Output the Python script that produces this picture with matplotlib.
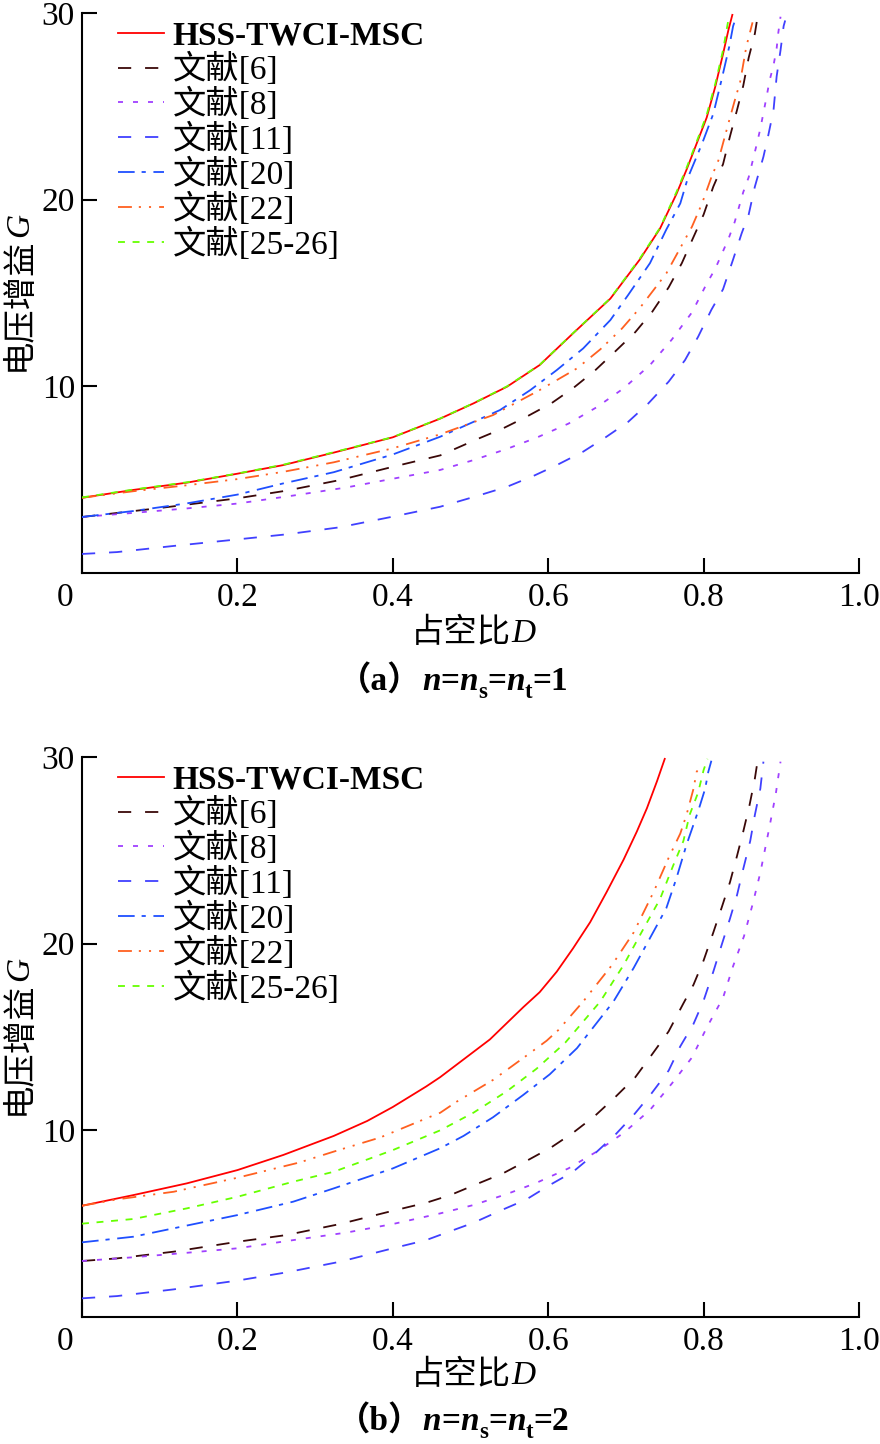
import matplotlib
matplotlib.use('Agg')
import matplotlib.pyplot as plt

SERIF = ['Liberation Serif', 'Noto Sans CJK SC']
plt.rcParams['font.family'] = SERIF
plt.rcParams['lines.scale_dashes'] = False
plt.rcParams['axes.unicode_minus'] = False

# ---------------- data ----------------
labels = ['HSS-TWCI-MSC', '文献[6]', '文献[8]', '文献[11]', '文献[20]', '文献[22]', '文献[25-26]']

# (a) n = ns = nt = 1
d_hss_a = [0, 0.066, 0.135, 0.2, 0.259, 0.324, 0.4, 0.461, 0.504, 0.547, 0.589, 0.632, 0.68, 0.718, 0.744, 0.765, 0.778, 0.791, 0.804, 0.815, 0.825, 0.832, 0.837]
g_hss_a = [4.03, 4.45, 4.84, 5.32, 5.78, 6.45, 7.27, 8.27, 9.09, 9.98, 11.14, 12.84, 14.7, 16.8, 18.46, 20.3, 21.6, 23.0, 24.4, 26.05, 27.8, 29.1, 29.9]

d_r6_a = [0, 0.1, 0.2, 0.263, 0.332, 0.4, 0.461, 0.508, 0.542, 0.572, 0.604, 0.632, 0.66, 0.686, 0.712, 0.734, 0.755, 0.772, 0.787, 0.80, 0.8125, 0.825, 0.834, 0.843, 0.851, 0.858, 0.866, 0.871]
g_r6_a = [3.0, 3.48, 4.0, 4.41, 4.98, 5.69, 6.3, 7.16, 7.75, 8.37, 9.09, 9.9, 10.84, 11.86, 12.9, 14.0, 15.3, 16.6, 18.0, 19.2, 20.7, 21.9, 23.4, 24.8, 26.1, 27.6, 28.9, 30.2]

d_r8_a = [0, 0.066, 0.135, 0.2, 0.272, 0.34, 0.4, 0.461, 0.504, 0.547, 0.585, 0.626, 0.662, 0.697, 0.731, 0.759, 0.785, 0.804, 0.815, 0.832, 0.840, 0.851, 0.858, 0.868, 0.873, 0.881, 0.885, 0.890, 0.894, 0.896, 0.899]
g_r8_a = [3.0, 3.22, 3.46, 3.72, 4.15, 4.58, 5.05, 5.52, 6.05, 6.65, 7.25, 8.0, 8.87, 9.89, 11.14, 12.5, 13.96, 15.5, 16.3, 17.9, 18.8, 20.4, 21.2, 22.9, 23.8, 25.5, 26.4, 27.2, 28.1, 28.9, 29.8]

d_r11_a = [0, 0.045, 0.118, 0.2, 0.263, 0.332, 0.4, 0.461, 0.508, 0.547, 0.581, 0.611, 0.645, 0.675, 0.703, 0.729, 0.755, 0.776, 0.793, 0.81, 0.825, 0.838, 0.849, 0.858, 0.866, 0.877, 0.883, 0.890, 0.894, 0.899, 0.903, 0.905]
g_r11_a = [1.02, 1.12, 1.45, 1.8, 2.07, 2.45, 3.02, 3.55, 4.12, 4.62, 5.2, 5.78, 6.5, 7.3, 8.1, 9.09, 10.25, 11.4, 12.66, 14.1, 15.2, 16.8, 18.2, 19.2, 20.7, 22.3, 23.4, 24.8, 26.6, 28.0, 29.3, 29.6]

d_r20_a = [0, 0.066, 0.135, 0.2, 0.259, 0.324, 0.4, 0.461, 0.538, 0.577, 0.611, 0.645, 0.68, 0.703, 0.731, 0.752, 0.770, 0.780, 0.798, 0.8125, 0.823, 0.833, 0.838, 0.842]
g_r20_a = [3.0, 3.32, 3.73, 4.2, 4.8, 5.4, 6.35, 7.30, 8.73, 9.8, 10.87, 12.03, 13.55, 14.9, 16.6, 18.4, 19.8, 21.2, 23.0, 24.6, 26.4, 28.2, 29.3, 29.8]

d_r22_a = [0, 0.066, 0.135, 0.2, 0.259, 0.324, 0.4, 0.461, 0.529, 0.589, 0.637, 0.667, 0.695, 0.718, 0.752, 0.785, 0.798, 0.810, 0.819, 0.832, 0.840, 0.847, 0.855, 0.863]
g_r22_a = [4.03, 4.38, 4.7, 5.03, 5.42, 5.93, 6.68, 7.43, 8.46, 9.8, 10.96, 11.98, 13.1, 14.2, 16.05, 18.55, 19.8, 21.2, 22.1, 24.1, 25.3, 26.3, 28.2, 29.5]

d_r25_a = [0, 0.066, 0.135, 0.2, 0.259, 0.324, 0.4, 0.461, 0.504, 0.547, 0.589, 0.632, 0.68, 0.718, 0.744, 0.765, 0.778, 0.791, 0.804, 0.815, 0.825, 0.833]
g_r25_a = [4.05, 4.47, 4.86, 5.33, 5.8, 6.47, 7.28, 8.28, 9.1, 10.0, 11.15, 12.85, 14.72, 16.85, 18.5, 20.4, 21.7, 23.1, 24.55, 26.2, 28.0, 29.9]

# (b) n = ns = nt = 2
d_hss_b = [0, 0.066, 0.135, 0.2, 0.259, 0.324, 0.367, 0.4, 0.443, 0.461, 0.525, 0.568, 0.589, 0.611, 0.632, 0.654, 0.675, 0.697, 0.714, 0.727, 0.740, 0.75]
g_hss_b = [5.96, 6.53, 7.16, 7.87, 8.68, 9.7, 10.5, 11.25, 12.35, 12.85, 14.87, 16.6, 17.4, 18.5, 19.75, 21.15, 22.75, 24.5, 26.0, 27.25, 28.7, 29.9]

d_r6_b = [0, 0.045, 0.118, 0.2, 0.263, 0.332, 0.4, 0.443, 0.474, 0.508, 0.542, 0.572, 0.604, 0.632, 0.66, 0.686, 0.712, 0.733, 0.755, 0.774, 0.787, 0.80, 0.8125, 0.823, 0.834, 0.843, 0.851, 0.859, 0.866, 0.871]
g_r6_b = [3.0, 3.14, 3.5, 4.03, 4.39, 4.98, 5.69, 6.12, 6.53, 7.12, 7.7, 8.36, 9.09, 9.87, 10.77, 11.77, 12.84, 14.03, 15.3, 16.8, 17.8, 19.1, 20.6, 21.9, 23.3, 24.7, 26.0, 27.4, 28.85, 30.2]

d_r8_b = [0, 0.066, 0.135, 0.2, 0.272, 0.34, 0.4, 0.461, 0.504, 0.547, 0.585, 0.626, 0.662, 0.698, 0.731, 0.759, 0.785, 0.804, 0.825, 0.838, 0.852, 0.863, 0.873, 0.885, 0.893, 0.899]
g_r8_b = [3.0, 3.2, 3.44, 3.68, 4.12, 4.52, 4.98, 5.55, 6.0, 6.59, 7.19, 7.96, 8.85, 9.89, 11.09, 12.5, 13.9, 15.5, 17.1, 18.8, 20.4, 22.1, 23.8, 26.3, 28.05, 29.75]

d_r11_b = [0, 0.045, 0.118, 0.2, 0.263, 0.332, 0.4, 0.443, 0.469, 0.504, 0.538, 0.572, 0.602, 0.632, 0.658, 0.686, 0.71, 0.733, 0.755, 0.77, 0.787, 0.80, 0.8125, 0.823, 0.834, 0.843, 0.851, 0.86, 0.866, 0.873, 0.877]
g_r11_b = [1.0, 1.12, 1.48, 1.95, 2.39, 2.96, 3.68, 4.12, 4.52, 5.05, 5.69, 6.3, 7.07, 7.78, 8.68, 9.75, 10.82, 11.98, 13.2, 14.5, 15.7, 16.95, 18.5, 19.9, 21.35, 22.6, 24.0, 25.5, 26.9, 28.3, 29.75]

d_r20_b = [0, 0.066, 0.135, 0.2, 0.272, 0.324, 0.4, 0.461, 0.491, 0.529, 0.568, 0.602, 0.637, 0.684, 0.710, 0.731, 0.752, 0.765, 0.778, 0.793, 0.802, 0.806, 0.810]
g_r20_b = [4.0, 4.3, 4.9, 5.46, 6.18, 6.89, 7.96, 9.04, 9.7, 10.7, 11.9, 13.0, 14.4, 16.9, 18.7, 20.3, 21.9, 23.5, 25.3, 27.1, 28.3, 29.2, 29.8]

d_r22_b = [0, 0.045, 0.118, 0.2, 0.28, 0.324, 0.384, 0.443, 0.461, 0.482, 0.529, 0.572, 0.598, 0.613, 0.645, 0.682, 0.710, 0.736, 0.755, 0.770, 0.778, 0.787, 0.791, 0.797]
g_r22_b = [5.96, 6.3, 6.71, 7.46, 8.28, 8.86, 9.62, 10.64, 10.94, 11.53, 12.7, 14.0, 14.8, 15.37, 16.9, 18.85, 20.6, 22.8, 24.6, 25.9, 26.9, 28.3, 29.2, 29.6]

d_r25_b = [0, 0.066, 0.135, 0.2, 0.272, 0.324, 0.4, 0.461, 0.504, 0.547, 0.585, 0.622, 0.667, 0.697, 0.720, 0.744, 0.761, 0.774, 0.782, 0.793, 0.800, 0.805]
g_r25_b = [5.0, 5.25, 5.82, 6.44, 7.25, 7.78, 8.94, 10.0, 10.95, 12.1, 13.3, 14.7, 16.9, 18.85, 20.6, 22.4, 24.2, 25.5, 26.9, 28.1, 29.3, 29.9]

x_ticks = [0, 0.2, 0.4, 0.6, 0.8, 1.0]
x_ticklabels = ['0', '0.2', '0.4', '0.6', '0.8', '1.0']
y_ticks = [10, 20, 30]
y_ticklabels = ['10', '20', '30']

# ---------------- styles ----------------
colors = ['#ff0000', '#3a0808', '#a040ff', '#4040ff', '#1f4fff', '#ff6020', '#66ff00']
dash_styles = [None, (9.5, 10), (3.6, 7.2), (9.5, 10), (12, 5, 3, 5.5),
               (10, 5, 1.5, 5.8, 1.5, 5.8), (5, 5.5)]
FS = 24

series_a = [(d_hss_a, g_hss_a), (d_r6_a, g_r6_a), (d_r8_a, g_r8_a), (d_r11_a, g_r11_a),
            (d_r20_a, g_r20_a), (d_r22_a, g_r22_a), (d_r25_a, g_r25_a)]
series_b = [(d_hss_b, g_hss_b), (d_r6_b, g_r6_b), (d_r8_b, g_r8_b), (d_r11_b, g_r11_b),
            (d_r20_b, g_r20_b), (d_r22_b, g_r22_b), (d_r25_b, g_r25_b)]

W, H = 880, 1444
fig = plt.figure(figsize=(W / 100, H / 100), dpi=100)


def px_rect(left, top, right, bottom):
    return [left / W, 1 - bottom / H, (right - left) / W, (bottom - top) / H]


def draw(ax, series):
    for i, (d, g) in enumerate(series):
        ln, = ax.plot(d, g, color=colors[i], lw=1.3, label=labels[i], zorder=3)
        if dash_styles[i] is not None:
            ln.set_dashes(dash_styles[i])
    ax.set_xlim(0, 1.0)
    ax.set_ylim(0, 30)
    ax.set_xticks(x_ticks)
    # origin label sits left of the y axis, as in the reference
    ax.set_xticklabels([x_ticklabels[0] + ' '] + x_ticklabels[1:])
    ax.xaxis.get_ticklabels()[0].set_horizontalalignment('right')
    ax.set_yticks(y_ticks)
    ax.set_yticklabels(y_ticklabels)
    ax.tick_params(direction='in', length=11, width=1.5, labelsize=FS)
    ax.tick_params(axis='x', pad=6.5)
    ax.tick_params(axis='y', pad=5)
    for s in ['top', 'right']:
        ax.spines[s].set_visible(False)
    for s in ['left', 'bottom']:
        ax.spines[s].set_linewidth(1.5)
    leg = ax.legend(loc='upper left', bbox_to_anchor=(0.046, 0.987), frameon=False,
                    fontsize=FS, handlelength=1.38, handletextpad=0.27,
                    labelspacing=0.05, borderaxespad=0, borderpad=0.0)
    leg.get_texts()[0].set_fontweight('bold')


ax1 = fig.add_axes(px_rect(82, 13, 859, 573))
draw(ax1, series_a)
ax2 = fig.add_axes(px_rect(82, 757, 859, 1317))
draw(ax2, series_b)

renderer = fig.canvas.get_renderer()


def rich_text(xc, yc, pieces, vertical=False):
    """Place text pieces side by side. Horizontal: xc = centre x, yc = baseline y (pixels).
    Vertical: xc = baseline x, yc = centre y."""
    arts, widths = [], []
    for s, kw in pieces:
        kw = dict(kw)
        dy = kw.pop('dy', 0)
        t = fig.text(0, 0, s, ha='left', va='baseline', rotation_mode='anchor', **kw)
        widths.append(t.get_window_extent(renderer).width)
        arts.append((t, dy))
    total = sum(widths)
    cum = 0
    for (t, dy), w in zip(arts, widths):
        if vertical:
            t.set_rotation(90)
            t.set_position((xc / W, 1 - (yc + total / 2 - cum) / H))
        else:
            t.set_position(((xc - total / 2 + cum) / W, 1 - (yc + dy) / H))
        cum += w


cjk = dict(fontsize=FS, family=SERIF)
ital = dict(fontsize=FS, family=SERIF, style='italic')
bcjk = dict(fontsize=FS, family=SERIF, weight='bold')
bit = dict(fontsize=FS, family=SERIF, weight='bold', style='italic')
bsub = dict(fontsize=FS * 0.68, family=SERIF, weight='bold', dy=8)

for yc in (292, 1036):
    rich_text(28, yc, [('电压增益', cjk), ('G', ital)], vertical=True)
for yb in (642, 1384):
    rich_text(473, yb, [('占空比', cjk), ('D', ital)])
for yb, tag, val in ((690, '（a）', '1'), (1430, '（b）', '2')):
    rich_text(453, yb, [(tag, bcjk), ('n', bit), ('=', bcjk), ('n', bit), ('s', bsub),
                        ('=', bcjk), ('n', bit), ('t', bsub), ('=' + val, bcjk)])

fig.savefig('out.png', dpi=100)
